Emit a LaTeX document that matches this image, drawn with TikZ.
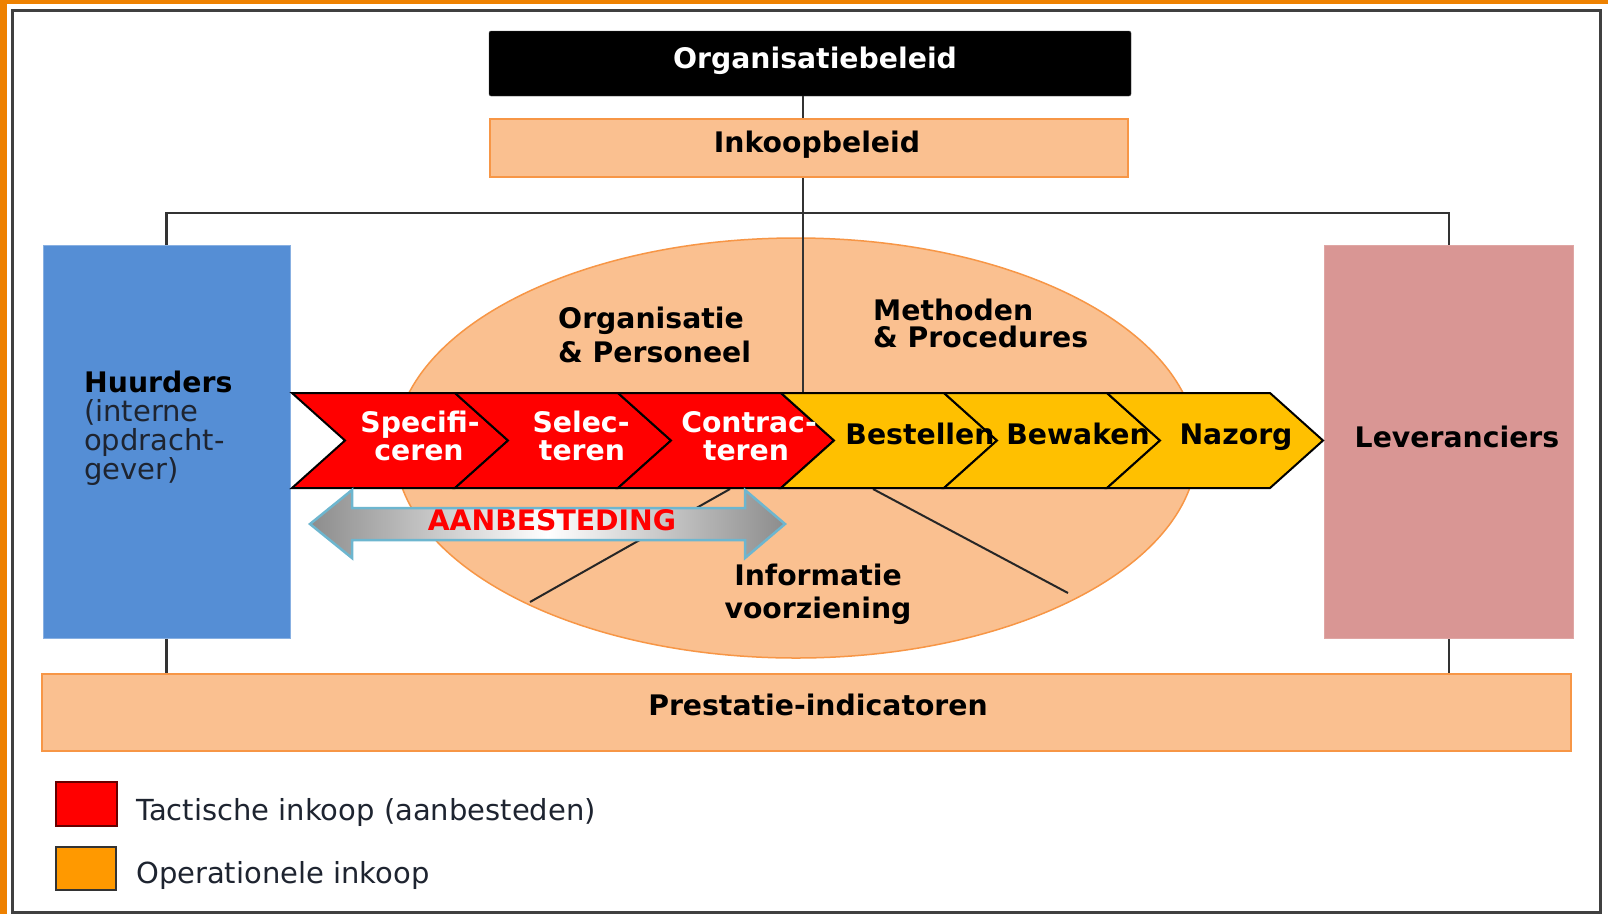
\documentclass[tikz,border=0pt]{standalone}
\usepackage{fontspec}
\setmainfont{DejaVu Sans}
\usetikzlibrary{shapes.geometric}
\definecolor{lorange}{HTML}{FAC090}
\definecolor{borange}{HTML}{F79646}
\definecolor{hblue}{HTML}{558ED5}
\definecolor{lpink}{HTML}{D99694}
\definecolor{chred}{HTML}{FF0000}
\definecolor{chyel}{HTML}{FFC000}
\definecolor{frameor}{HTML}{EE8100}
\definecolor{conncol}{HTML}{333333}
\definecolor{arrowedge}{HTML}{6DB6CF}
\definecolor{legor}{HTML}{FF9900}
\definecolor{txtdark}{HTML}{1E2430}
\newcommand\fsz{\fontsize{28.3}{29}\selectfont}
\newcommand\fszr{\fontsize{29}{29}\selectfont}
\begin{document}
\begin{tikzpicture}[x=1pt,y=-1pt,
  conn/.style={draw=conncol,line width=2.5pt},
  thinline/.style={draw=black!85,line width=2pt},
  obox/.style={draw=borange,fill=lorange,line width=1.8pt,inner sep=0pt},
  chevline/.style={draw=black,line width=2pt,line join=miter},
  lab/.style={font=\fsz\bfseries,inner sep=0pt,anchor=base,text=black},
  labw/.style={lab,anchor=base west},
  reg/.style={font=\fszr,inner sep=0pt,anchor=base west,text=txtdark},
]
\useasboundingbox (0,0) rectangle (1608,914);
\fill[white] (0,0) rectangle (1608,914);
% frame
\fill[frameor] (0,0) rectangle (7,914);
\fill[frameor] (0,0) rectangle (1608,3.5);
\draw[draw=black!75,line width=3pt] (12.5,10.5) rectangle (1600,912);

% ellipse
\node[ellipse,draw=borange,fill=lorange,line width=1.5pt,minimum width=802pt,minimum height=420pt,inner sep=0pt] (ell) at (796,448) {};

% boxes
\node[draw=black!70,fill=black,rounded corners=2pt,minimum width=642pt,minimum height=65pt,inner sep=0pt] (org) at (810,63.5) {};
\node[obox,minimum width=638pt,minimum height=58pt] (ink) at (809,148) {};
\node[draw=hblue!70!white,fill=hblue,line width=1pt,minimum width=247pt,minimum height=393pt,inner sep=0pt] (huur) at (166.5,442) {};
\node[draw=lpink!85!white,fill=lpink,line width=1pt,minimum width=249pt,minimum height=393pt,inner sep=0pt] (lev) at (1449,442) {};
\node[obox,minimum width=1529pt,minimum height=77pt] (pres) at (806.5,712.5) {};

% connectors
\coordinate (spine) at (803,0);
\coordinate (hl) at (0,213);
\coordinate (chevtop) at (803,393);
\draw[conn] (org.south -| spine) -- (ink.north -| spine);
\draw[conn] (ink.south -| spine) -- (chevtop);
\draw[conn] (huur.north) -- (huur.north |- hl) -- (lev.north |- hl) -- (lev.north);
\draw[conn] (huur.south) -- (huur.south |- pres.north);
\draw[conn] (lev.south) -- (lev.south |- pres.north);

% inner ellipse lines
\coordinate (d1a) at (730,489);
\coordinate (d1b) at (530,602);
\coordinate (d2a) at (873,489);
\coordinate (d2b) at (1068,593);
\draw[thinline] (d1a) -- (d1b);
\draw[thinline] (d2a) -- (d2b);

% chevrons
\foreach \i/\c in {0/chred,1/chred,2/chred,3/chyel,4/chyel,5/chyel}{
  \pgfmathsetmacro\xa{292+163*\i}
  \draw[chevline,fill=\c] (\xa,393) -- ++(163,0) -- ++(53,47.5) -- ++(-53,47.5) -- ++(-163,0) -- ++(53,-47.5) -- cycle;
}

% AANBESTEDING arrow
\draw[draw=arrowedge,line width=2.5pt,left color=black!45,right color=black!45,middle color=white]
  (310,524) -- (352,490) -- (352,508) -- (745,508) -- (745,490) -- (785,524) -- (745,558) -- (745,540) -- (352,540) -- (352,558) -- cycle;

% texts
\node[lab,text=white] (orgT) at (815,68) {Organisatiebeleid};
\node[lab] (inkT) at (817,152) {Inkoopbeleid};
\node[labw] (op1) at (558,328) {Organisatie};
\node[labw] (op2) at (558,362) {\& Personeel};
\node[labw] (mp1) at (873,320) {Methoden};
\node[labw] (mp2) at (873,347) {\& Procedures};
\node[lab,text=white] (c1a) at (420,432) {Specifi-};
\node[lab,text=white] (c1b) at (419,460) {ceren};
\node[lab,text=white] (c2a) at (581,432) {Selec-};
\node[lab,text=white] (c2b) at (582,460) {teren};
\node[lab,text=white] (c3a) at (749,432) {Contrac-};
\node[lab,text=white] (c3b) at (746,460) {teren};
\node[lab] (c4) at (920,444) {Bestellen};
\node[lab] (c5) at (1078,444) {Bewaken};
\node[lab] (c6) at (1236,444) {Nazorg};
\node[labw] (h1) at (84,392) {Huurders};
\node[reg] (h2) at (84,421) {(interne};
\node[reg] (h3) at (84,450) {opdracht-};
\node[reg] (h4) at (84,479) {gever)};
\node[lab] (levT) at (1457,447) {Leveranciers};
\node[lab,text=chred] (aanb) at (552,530) {AANBESTEDING};
\node[lab] (inf1) at (818,585) {Informatie};
\node[lab] (inf2) at (818,618) {voorziening};
\node[lab] (presT) at (818,715) {Prestatie-indicatoren};

% legend
\node[draw=black!60!red,fill=chred,line width=2pt,minimum width=61pt,minimum height=44pt,inner sep=0pt] (leg1) at (86.5,804) {};
\node[draw=black!80,fill=legor,line width=2pt,minimum width=60pt,minimum height=43pt,inner sep=0pt] (leg2) at (86,868.5) {};
\node[reg] (leg1T) at (136,820) {Tactische inkoop (aanbesteden)};
\node[reg] (leg2T) at (136,883) {Operationele inkoop};
\end{tikzpicture}
\end{document}
